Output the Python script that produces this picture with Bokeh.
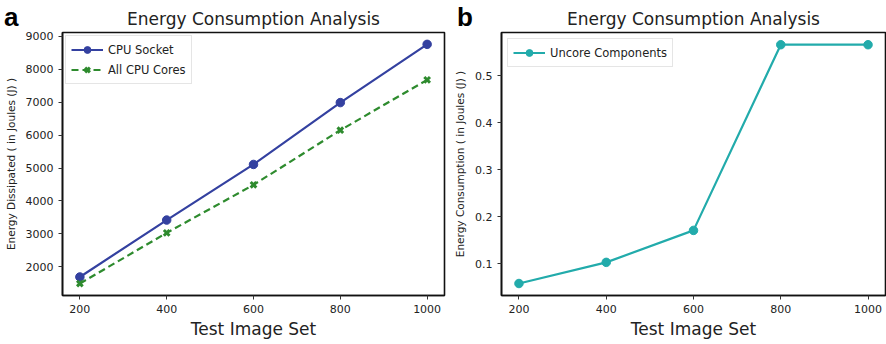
from bokeh.plotting import figure
from bokeh.layouts import row
from bokeh.models import Range1d, Legend, LegendItem, FixedTicker, Div
from bokeh.embed import file_html
from bokeh.resources import INLINE

test_sets = [200, 400, 600, 800, 1000]
cpu_socket = [1690, 3420, 5110, 6990, 8760]
cpu_cores = [1490, 3030, 4490, 6150, 7680]
uncore = [0.058, 0.103, 0.171, 0.566, 0.566]

title_text = "Energy Consumption Analysis"
x_label = "Test Image Set"
y_label_a = "Energy Dissipated ( in Joules (J) )"
y_label_b = "Energy Consumption ( in Joules (J) )"
panel_letters = ["a", "b"]

FONT = "DejaVu Sans"
BLUE = "#3441a0"
GREEN = "#2e8b2e"
TEAL = "#22abab"


def style(p):
    p.title.text_font = FONT
    p.title.text_font_size = "17px"
    p.title.text_font_style = "normal"
    p.title.align = "center"
    p.title.text_color = "#222222"
    p.title.offset = 0
    p.title.standoff = 7
    p.outline_line_color = "#111111"
    p.outline_line_width = 1.6
    p.xgrid.visible = False
    p.ygrid.visible = False
    for ax in (p.xaxis[0], p.yaxis[0]):
        ax.axis_line_color = "#111111"
        ax.axis_line_width = 1.6
        ax.major_tick_line_color = "#333333"
        ax.major_tick_out = 4
        ax.major_tick_in = 0
        ax.minor_tick_line_color = None
        ax.major_label_text_font = FONT
        ax.major_label_text_font_size = "11px"
        ax.major_label_text_color = "#222222"
        ax.axis_label_text_font = FONT
        ax.axis_label_text_font_style = "normal"
        ax.axis_label_text_color = "#222222"
    p.xaxis[0].axis_label_text_font_size = "17px"
    p.xaxis[0].axis_label_standoff = 3
    p.yaxis[0].axis_label_text_font_size = "10.5px"
    p.yaxis[0].axis_label_standoff = 6
    p.xaxis[0].ticker = FixedTicker(ticks=test_sets)
    p.background_fill_color = "white"
    p.border_fill_color = "white"


def style_legend(leg):
    leg.label_text_font = FONT
    leg.label_text_font_size = "11.5px"
    leg.label_text_color = "#222222"
    leg.label_height = 17
    leg.glyph_height = 17
    leg.glyph_width = 32
    leg.spacing = 3
    leg.padding = 5
    leg.border_line_color = "#cccccc"
    leg.border_line_width = 1


# Panel a
pa = figure(width=446, height=344, output_backend="svg", toolbar_location=None,
            x_range=Range1d(160, 1040), y_range=Range1d(1127, 9120),
            title=title_text, min_border_left=62, min_border_right=2,
            min_border_top=30, min_border_bottom=49)
style(pa)
pa.xaxis.axis_label = x_label
pa.yaxis.axis_label = y_label_a
pa.yaxis[0].ticker = FixedTicker(ticks=[2000, 3000, 4000, 5000, 6000, 7000, 8000, 9000])

l1 = pa.line(test_sets, cpu_socket, line_color=BLUE, line_width=2.2)
m1 = pa.scatter(test_sets, cpu_socket, marker="circle", size=8.5, fill_color=BLUE, line_color=BLUE)
l2 = pa.line(test_sets, cpu_cores, line_color=GREEN, line_width=2.2, line_dash="7 4")
m2 = pa.scatter(test_sets, cpu_cores, marker="x", size=8, line_color=GREEN, line_width=3)

leg_a = Legend(items=[LegendItem(label="CPU Socket", renderers=[l1, m1]),
                      LegendItem(label="All CPU Cores", renderers=[l2, m2])],
               location="top_left")
style_legend(leg_a)
leg_a.margin = 3
pa.add_layout(leg_a)

# Panel b
pb = figure(width=440, height=344, output_backend="svg", toolbar_location=None,
            x_range=Range1d(160, 1040), y_range=Range1d(0.0325, 0.592),
            title=title_text, min_border_left=55, min_border_right=1,
            min_border_top=32, min_border_bottom=48)
style(pb)
pb.xaxis.axis_label = x_label
pb.yaxis.axis_label = y_label_b
pb.yaxis[0].ticker = FixedTicker(ticks=[0.1, 0.2, 0.3, 0.4, 0.5])

l3 = pb.line(test_sets, uncore, line_color=TEAL, line_width=2.2)
m3 = pb.scatter(test_sets, uncore, marker="circle", size=8.5, fill_color=TEAL, line_color=TEAL)

leg_b = Legend(items=[LegendItem(label="Uncore Components", renderers=[l3, m3])],
               location="top_left")
style_legend(leg_b)
leg_b.margin = 6
pb.add_layout(leg_b)


def letter_div(letter, left):
    return Div(text=letter, styles={
        "position": "absolute", "left": f"{left}px", "top": "2px",
        "z-index": "10", "font-family": "'Liberation Sans', Arial, sans-serif",
        "font-size": "26px", "font-weight": "bold", "color": "black",
        "line-height": "30px", "margin": "0", "padding": "0",
    })


layout = row(pa, pb, letter_div(panel_letters[0], 4), letter_div(panel_letters[1], 457),
             styles={"position": "relative"})
open("out.html", "w").write(file_html(layout, INLINE))
